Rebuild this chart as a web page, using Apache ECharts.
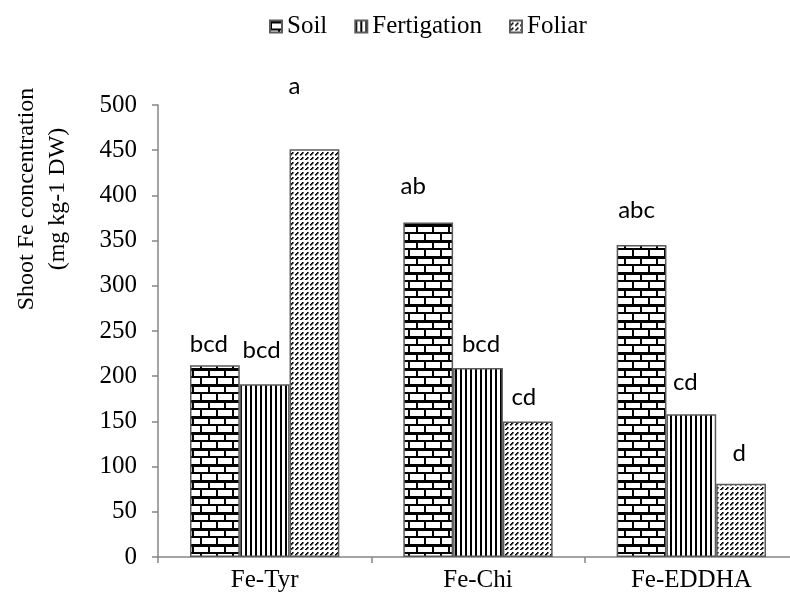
<!DOCTYPE html>
<html>
<head>
<meta charset="utf-8">
<script src="https://cdn.jsdelivr.net/npm/echarts@6/dist/echarts.min.js"></script>
<style>
  html, body { margin: 0; padding: 0; background: #fff; }
  #main { width: 790px; height: 603px; }
</style>
</head>
<body>
<div id="main"></div>
<script>
const categories = ["Fe-Tyr", "Fe-Chi", "Fe-EDDHA"];
const seriesNames = ["Soil", "Fertigation", "Foliar"];

const soil = [212, 370, 345];
const fertigation = [191, 209, 158];
const foliar = [451, 150, 81];

// significance letters
const soilLetters = ["bcd", "ab", "abc"];
const fertigationLetters = ["bcd", "bcd", "cd"];
const foliarLetters = ["a", "cd", "d"];

// height (axis units) at which each letter sits - over the (hidden) error bars
const soilLetterAt = [222, 397, 370];
const fertigationLetterAt = [215, 222, 180];
const foliarLetterAt = [507, 163, 101];

const yMin = 0, yMax = 500, yStep = 50;

// small sideways nudges of the letters, px
const letterShift = [[-6, -15, -5], [-3, 3, -6], [-20, -4, -2]];

// fill patterns drawn on small canvases
function tile(w, h, draw) {
  const c = document.createElement("canvas");
  c.width = w; c.height = h;
  const g = c.getContext("2d");
  g.fillStyle = "#fff";
  g.fillRect(0, 0, w, h);
  g.fillStyle = "#000";
  draw(g);
  return { image: c, repeat: "repeat" };
}

const brick = tile(16, 16, function (g) {
  g.fillRect(0, 0, 16, 3);
  g.fillRect(0, 8, 16, 2);
  g.fillRect(0, 3, 2, 5);
  g.fillRect(8, 10, 2, 6);
});

const stripes = tile(5, 4, function (g) {
  g.fillRect(0, 0, 2, 4);
});

const dashes = tile(10, 10, function (g) {
  for (let i = 0; i < 10; i++) {
    if (i % 5 > 2) continue;
    g.fillRect(i, 9 - i, 1.6, 1.6);
    g.fillRect((i + 5) % 10, 9 - i, 1.6, 1.6);
  }
});

const fills = [brick, stripes, dashes];
const values = [soil, fertigation, foliar];
const letters = [soilLetters, fertigationLetters, foliarLetters];
const letterAt = [soilLetterAt, fertigationLetterAt, foliarLetterAt];

const serif = "'Liberation Serif', 'Times New Roman', serif";

let myChart = echarts.init(document.getElementById("main"));

function buildSeries(offsets) {
  return seriesNames.map(function (name, s) {
    return {
      name: name,
      type: "bar",
      barGap: "0%",
      barCategoryGap: "30%",
      itemStyle: { color: fills[s], borderColor: "#5a5a5a", borderWidth: 1.5 },
      label: {
        show: true,
        position: "top",
        distance: 0,
        fontFamily: "Lato",
        fontSize: 24,
        color: "#000",
        formatter: function (p) { return letters[s][p.dataIndex]; }
      },
      data: values[s].map(function (v, i) {
        return offsets ? { value: v, label: { offset: [letterShift[s][i], offsets[s][i]] } } : v;
      })
    };
  });
}

myChart.setOption({
  animation: false,
  backgroundColor: "#fff",
  legend: {
    top: 9,
    left: 264,
    itemWidth: 12,
    itemHeight: 12,
    itemGap: 27,
    icon: "rect",
    textStyle: { fontFamily: serif, fontSize: 25, color: "#000" },
    data: seriesNames
  },
  grid: { left: 158, top: 105, bottom: 46, right: -8, outerBoundsMode: "none" },
  xAxis: {
    type: "category",
    data: categories,
    axisLine: { lineStyle: { color: "#868686", width: 1.5 } },
    axisTick: { show: true, length: 6, lineStyle: { color: "#868686", width: 1.5 } },
    axisLabel: { fontFamily: serif, fontSize: 25, color: "#000", margin: 11 }
  },
  yAxis: {
    type: "value",
    min: yMin,
    max: yMax,
    interval: yStep,
    splitLine: { show: false },
    axisLine: { show: true, lineStyle: { color: "#868686", width: 1.5 } },
    axisTick: { show: true, length: 6, lineStyle: { color: "#868686", width: 1.5 } },
    axisLabel: { fontFamily: serif, fontSize: 25, color: "#000", margin: 21 }
  },
  graphic: [{
    type: "text",
    x: 42,
    y: 199,
    rotation: Math.PI / 2,
    style: {
      text: "Shoot Fe concentration\n(mg kg-1 DW)",
      font: "24px " + serif,
      fill: "#000",
      align: "center",
      verticalAlign: "middle",
      lineHeight: 31
    }
  }],
  series: buildSeries(null)
});

// lift each letter to its own height
const offsets = values.map(function (arr, s) {
  return arr.map(function (v, i) {
    return myChart.convertToPixel({ yAxisIndex: 0 }, letterAt[s][i]) -
           myChart.convertToPixel({ yAxisIndex: 0 }, v);
  });
});
myChart.setOption({ series: buildSeries(offsets) });
</script>
</body>
</html>
